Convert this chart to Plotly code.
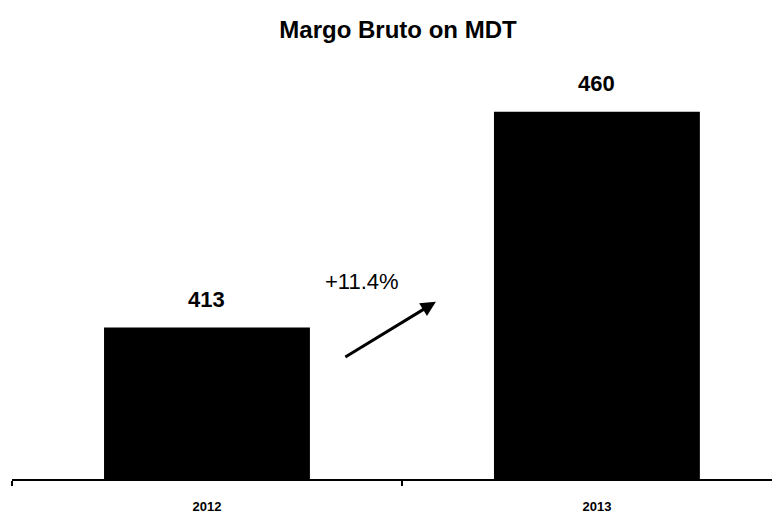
import plotly.graph_objects as go

# Data
categories = ["2012", "2013"]
values = [413, 460]
growth_label = "+11.4%"
title_text = "Margo Bruto on MDT"

FONT = "Liberation Sans, Arial, sans-serif"

fig = go.Figure()
fig.add_trace(go.Bar(
    x=categories,
    y=values,
    marker=dict(color="#000000", line=dict(width=0)),
    width=0.528,
    hoverinfo="skip",
))

# value labels above bars (x given as category index)
for i, v in enumerate(values):
    fig.add_annotation(
        x=i, y=v, xref="x", yref="y",
        text=f"<b>{v}</b>", showarrow=False,
        yanchor="bottom", yshift=14,
        font=dict(family=FONT, size=22, color="#000000"),
    )

# growth annotation and arrow
fig.add_annotation(
    x=0.397, y=423.0, xref="x", yref="y",
    text=growth_label, showarrow=False,
    font=dict(family=FONT, size=22, color="#000000"),
)
fig.add_annotation(
    x=0.587, y=418.6, xref="x", yref="y",
    ax=0.351, ay=406.4, axref="x", ayref="y",
    text="", showarrow=True,
    arrowhead=2, arrowsize=1, arrowwidth=3, arrowcolor="#000000",
)

fig.update_layout(
    width=780, height=517,
    margin=dict(l=4, r=0, t=52, b=46),
    paper_bgcolor="#ffffff",
    plot_bgcolor="#ffffff",
    showlegend=False,
    title=dict(
        text=f"<b>{title_text}</b>",
        x=(398 - 8) / 780, xanchor="center",
        y=1 - 22 / 517, yanchor="middle",
        font=dict(family=FONT, size=24, color="#000000"),
    ),
    xaxis=dict(
        type="category",
        range=[-0.5, 1.49],
        showline=True, linecolor="#000000", linewidth=2,
        ticks="outside", tickson="boundaries", ticklen=5, tickwidth=2,
        tickcolor="#000000",
        ticklabelstandoff=14,
        tickfont=dict(family=FONT, size=13, color="#000000"),
        showgrid=False, zeroline=False,
        tickprefix="<b>", ticksuffix="</b>",
    ),
    yaxis=dict(
        range=[380, 380 + (479 - 60) / 4.59],
        visible=False, showgrid=False, zeroline=False,
    ),
)

fig.write_html("out.html")
